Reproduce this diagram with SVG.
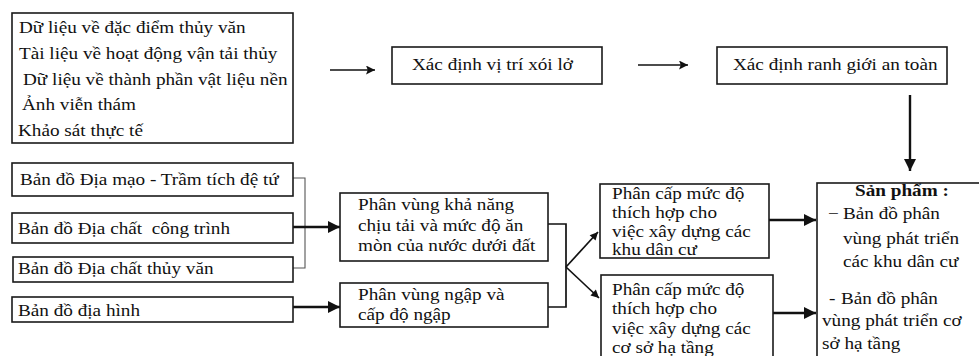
<svg xmlns="http://www.w3.org/2000/svg" width="979" height="356" viewBox="0 0 979 356">
<style>
  .box { fill: #fff; stroke: #1a1a1a; stroke-width: 1.6; }
  .t { font-family: "Liberation Serif", "Times New Roman", serif; font-size: 16px; fill: #111; }
  .b { font-weight: bold; }
  .thin { fill: none; stroke: #555; stroke-width: 1.1; }
  .thick { fill: none; stroke: #111; stroke-width: 2.4; }
  .med { fill: none; stroke: #111; stroke-width: 1.7; }
</style>
<defs>
  <marker id="big" viewBox="0 0 10 10" refX="10" refY="5" markerWidth="13" markerHeight="12" markerUnits="userSpaceOnUse" orient="auto">
    <path d="M0,0 L10,5 L0,10 z" fill="#111"/>
  </marker>
  <marker id="small" viewBox="0 0 10 10" refX="10" refY="5" markerWidth="9" markerHeight="9" markerUnits="userSpaceOnUse" orient="auto">
    <path d="M0,0 L10,5 L0,10 L2,5 z" fill="#111"/>
  </marker>
  <marker id="diag" viewBox="0 0 10 10" refX="10" refY="5" markerWidth="10" markerHeight="8" markerUnits="userSpaceOnUse" orient="auto">
    <path d="M0,0 L10,5 L0,10 z" fill="#111"/>
  </marker>
</defs>
<rect width="979" height="356" fill="#fff"/>

<g id="connectors">
  <line class="med" x1="330" y1="70" x2="375" y2="70" marker-end="url(#small)"/>
  <line class="med" x1="638" y1="65" x2="688" y2="65" marker-end="url(#small)"/>
  <line class="thick" x1="910" y1="95" x2="910" y2="171" marker-end="url(#big)"/>
  <polyline class="thin" points="293,178 305,178 305,268 290,268"/>
  <line class="thick" x1="290" y1="227" x2="340" y2="227" marker-end="url(#big)"/>
  <line class="thick" x1="293" y1="307" x2="340" y2="307" marker-end="url(#big)"/>
  <polyline class="med" points="548,224 566,224 566,307 548,307"/>
  <line class="med" x1="566" y1="267" x2="598" y2="232" marker-end="url(#diag)"/>
  <line class="med" x1="566" y1="267" x2="599" y2="298" marker-end="url(#diag)"/>
  <line class="thick" x1="769" y1="220" x2="816" y2="220" marker-end="url(#big)"/>
  <line class="thick" x1="773" y1="313" x2="816" y2="313" marker-end="url(#big)"/>
</g>

<g id="data-sources">
  <rect class="box" x="12" y="13" width="281" height="130" stroke-width="2"/>
  <text class="t" transform="scale(1.2 1)">
    <tspan x="15.83" y="33">Dữ liệu về đặc điểm thủy văn</tspan>
    <tspan x="15.83" y="59">Tài liệu về hoạt động vận tải thủy</tspan>
    <tspan x="19.17" y="85">Dữ liệu về thành phần vật liệu nền</tspan>
    <tspan x="18.33" y="110">Ảnh viễn thám</tspan>
    <tspan x="15" y="136">Khảo sát thực tế</tspan>
  </text>
</g>

<g id="erosion">
  <rect class="box" x="392" y="47" width="210" height="37"/>
  <text class="t" transform="scale(1.2 1)" x="343.33" y="70">Xác định vị trí xói lở</text>
</g>

<g id="safety">
  <rect class="box" x="717" y="47" width="230" height="37"/>
  <text class="t" transform="scale(1.2 1)" x="610.83" y="70">Xác định ranh giới an toàn</text>
</g>

<g id="map-geomorph">
  <rect class="box" x="12" y="163" width="281" height="33"/>
  <text class="t" transform="scale(1.2 1)" x="16.67" y="185">Bản đồ Địa mạo - Trầm tích đệ tứ</text>
</g>

<g id="map-eng-geology">
  <rect class="box" x="12" y="213" width="281" height="30"/>
  <text class="t" transform="scale(1.2 1)" x="15" y="234" xml:space="preserve">Bản đồ Địa chất  công trình</text>
</g>

<g id="map-hydrogeology">
  <rect class="box" x="13" y="257" width="280" height="25"/>
  <text class="t" transform="scale(1.2 1)" x="15" y="274">Bản đồ Địa chất thủy văn</text>
</g>

<g id="map-topo">
  <rect class="box" x="12" y="297" width="281" height="25"/>
  <text class="t" transform="scale(1.2 1)" x="15" y="316">Bản đồ địa hình</text>
</g>

<g id="bearing-zoning">
  <rect class="box" x="340" y="193" width="208" height="68"/>
  <text class="t" transform="scale(1.2 1)">
    <tspan x="298.33" y="210">Phân vùng khả năng</tspan>
    <tspan x="298.33" y="231">chịu tải và mức độ ăn</tspan>
    <tspan x="298.33" y="251">mòn của nước dưới đất</tspan>
  </text>
</g>

<g id="flood-zoning">
  <rect class="box" x="340" y="283" width="208" height="44"/>
  <text class="t" transform="scale(1.2 1)">
    <tspan x="298.33" y="300">Phân vùng ngập và</tspan>
    <tspan x="298.33" y="320">cấp độ ngập</tspan>
  </text>
</g>

<g id="residential-grade">
  <rect class="box" x="600" y="184" width="169" height="74"/>
  <text class="t" transform="scale(1.2 1)">
    <tspan x="510" y="199">Phân cấp mức độ</tspan>
    <tspan x="510" y="218">thích hợp cho</tspan>
    <tspan x="510" y="237">việc xây dựng các</tspan>
    <tspan x="510" y="255">khu dân cư</tspan>
  </text>
</g>

<g id="infrastructure-grade">
  <rect class="box" x="601" y="275" width="172" height="95"/>
  <text class="t" transform="scale(1.2 1)">
    <tspan x="510" y="295">Phân cấp mức độ</tspan>
    <tspan x="510" y="314">thích hợp cho</tspan>
    <tspan x="510" y="334">việc xây dựng các</tspan>
    <tspan x="510" y="353">cơ sở hạ tầng</tspan>
  </text>
</g>

<g id="products">
  <rect class="box" x="817" y="183" width="180" height="190" stroke-width="2"/>
  <text class="t" transform="scale(1.2 1)">
    <tspan class="b" x="712.5" y="196">Sản phẩm :</tspan>
    <tspan x="690" y="219">−</tspan>
    <tspan x="702.5" y="219">Bản đồ phân</tspan>
    <tspan x="702.5" y="244">vùng phát triển</tspan>
    <tspan x="702.5" y="267">các khu dân cư</tspan>
    <tspan x="690.83" y="304">-</tspan>
    <tspan x="700.83" y="304">Bản đồ phân</tspan>
    <tspan x="685" y="326">vùng phát triển cơ</tspan>
    <tspan x="685" y="349">sở hạ tầng</tspan>
  </text>
</g>
</svg>
